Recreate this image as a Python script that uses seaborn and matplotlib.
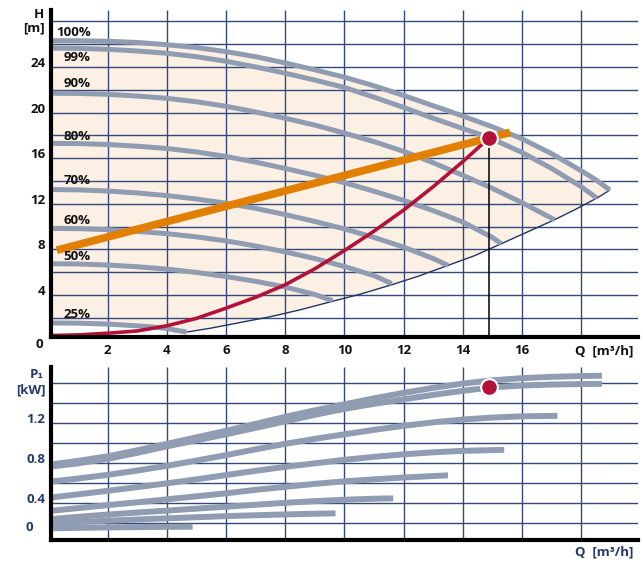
import numpy as np
import pandas as pd
import matplotlib
matplotlib.use("Agg")
import matplotlib.pyplot as plt
import seaborn as sns

# ---------------- data ----------------
speeds = ["100%", "99%", "90%", "80%", "70%", "60%", "50%", "25%"]

# pump curves H(Q)
q_100 = [0, 1, 2, 3, 4, 5, 6, 7, 8, 9, 10, 11, 12, 13, 14, 15, 16, 17, 18, 18.5, 18.97]
h_100 = [26.3, 26.3, 26.25, 26.15, 25.95, 25.7, 25.35, 24.9, 24.35, 23.75, 23.1,
         22.35, 21.5, 20.6, 19.7, 18.75, 17.7, 16.4, 14.9, 14.1, 13.2]
q_99 = [0, 1, 2, 3, 4, 5, 6, 7, 8, 9, 10, 11, 12, 13, 14, 14.9, 16, 17, 18, 18.53]
h_99 = [25.65, 25.63, 25.55, 25.4, 25.2, 24.9, 24.5, 24.0, 23.45, 22.85, 22.2,
        21.35, 20.45, 19.5, 18.6, 17.8, 16.5, 15.1, 13.5, 12.5]
q_90 = [0, 1, 2, 3, 4, 5, 6, 7, 8, 9, 10, 11, 12, 13, 14, 15, 16, 17.1]
h_90 = [21.7, 21.68, 21.6, 21.45, 21.25, 20.95, 20.55, 20.05, 19.5, 18.9, 18.2,
        17.45, 16.6, 15.6, 14.5, 13.35, 12.1, 10.6]
q_80 = [0, 1, 2, 3, 4, 5, 6, 7, 8, 9, 10, 11, 12, 13, 14, 15, 15.3]
h_80 = [17.3, 17.28, 17.2, 17.05, 16.85, 16.55, 16.15, 15.65, 15.1, 14.5, 13.85,
        13.1, 12.3, 11.4, 10.4, 9.05, 8.5]
q_70 = [0, 1, 2, 3, 4, 5, 6, 7, 8, 9, 10, 11, 12, 13, 13.5]
h_70 = [13.25, 13.22, 13.12, 12.95, 12.72, 12.42, 12.05, 11.6, 11.05, 10.45, 9.8,
        9.05, 8.2, 7.2, 6.6]
q_60 = [0, 1, 2, 3, 4, 5, 6, 7, 8, 9, 10, 11, 11.6]
h_60 = [9.85, 9.82, 9.73, 9.58, 9.38, 9.1, 8.75, 8.3, 7.78, 7.2, 6.5, 5.7, 5.0]
q_50 = [0, 1, 2, 3, 4, 5, 6, 7, 8, 9, 9.6]
h_50 = [6.75, 6.72, 6.63, 6.48, 6.27, 5.98, 5.62, 5.2, 4.7, 4.05, 3.5]
q_25 = [0, 1, 2, 3, 3.5, 4, 4.67]
h_25 = [1.55, 1.53, 1.45, 1.3, 1.2, 1.05, 0.75]

# lower limit of the operating field
q_edge = [4.67, 5.5, 6.5, 7.5, 8.5, 9.6, 10.5, 11.6, 12.5, 13.5, 14.4, 15.3,
          16.2, 17.1, 17.8, 18.53, 18.97]
h_edge = [0.75, 1.1, 1.6, 2.1, 2.7, 3.45, 4.05, 4.9, 5.65, 6.6, 7.45, 8.5,
          9.55, 10.6, 11.5, 12.5, 13.2]

# proportional pressure control line
q_ctrl = [0.28, 15.6]
h_ctrl = [7.93, 18.26]

# system curve
q_sys = [0.1, 1, 2, 3, 4, 5, 6, 7, 8, 9, 10, 11, 12, 13, 14, 14.9]
h_sys = [0.45, 0.5, 0.65, 0.85, 1.3, 1.95, 2.85, 3.8, 4.9, 6.3, 7.9, 9.6,
         11.45, 13.5, 15.7, 17.8]

# duty point
duty_q = 14.9
duty_h = 17.8
duty_p = 1.56

# power curves P1(Q)
pq_100 = [0, 1, 2, 3, 4, 5, 6, 7, 8, 9, 10, 11, 12, 13, 14, 15, 16, 17, 18, 18.7]
p_100 = [0.785, 0.825, 0.87, 0.93, 0.995, 1.06, 1.125, 1.195, 1.265, 1.33, 1.39,
         1.45, 1.505, 1.555, 1.598, 1.63, 1.652, 1.665, 1.673, 1.676]
pq_99 = [0, 1, 2, 3, 4, 5, 6, 7, 8, 9, 10, 11, 12, 13, 14, 15, 16, 17, 18, 18.7]
p_99 = [0.765, 0.8, 0.845, 0.905, 0.97, 1.03, 1.09, 1.155, 1.22, 1.285, 1.345,
        1.395, 1.44, 1.485, 1.525, 1.56, 1.578, 1.588, 1.593, 1.595]
pq_90 = [0, 1, 2, 3, 4, 5, 6, 7, 8, 9, 10, 11, 12, 13, 14, 15, 16, 17.2]
p_90 = [0.615, 0.648, 0.685, 0.728, 0.775, 0.828, 0.882, 0.94, 0.995, 1.045,
        1.09, 1.135, 1.175, 1.21, 1.238, 1.258, 1.27, 1.275]
pq_80 = [0, 1, 2, 3, 4, 5, 6, 7, 8, 9, 10, 11, 12, 13, 14, 15.4]
p_80 = [0.455, 0.49, 0.525, 0.562, 0.6, 0.64, 0.683, 0.725, 0.765, 0.8, 0.835,
        0.865, 0.89, 0.91, 0.925, 0.935]
pq_70 = [0, 1, 2, 3, 4, 5, 6, 7, 8, 9, 10, 11, 12, 13, 13.5]
p_70 = [0.323, 0.352, 0.382, 0.41, 0.44, 0.47, 0.5, 0.535, 0.565, 0.595, 0.62,
        0.64, 0.658, 0.673, 0.68]
pq_60 = [0, 1, 2, 3, 4, 5, 6, 7, 8, 9, 10, 11, 11.65]
p_60 = [0.24, 0.265, 0.288, 0.308, 0.327, 0.347, 0.366, 0.386, 0.405, 0.422,
        0.436, 0.446, 0.45]
pq_50 = [0, 2, 4, 6, 8, 9, 9.7]
p_50 = [0.2, 0.226, 0.25, 0.272, 0.289, 0.296, 0.3]
pq_25 = [0, 2, 4, 4.87]
p_25 = [0.15, 0.159, 0.165, 0.166]

x_ticks = [2, 4, 6, 8, 10, 12, 14, 16, 18]
x_ticklabels = ["2", "4", "6", "8", "10", "12", "14", "16", ""]
h_ticks = list(range(2, 29, 2))
h_ticklabels = [str(v) if (v % 4 == 0 and v <= 24) else "" for v in h_ticks]
p_ticks = [0.2, 0.4, 0.6, 0.8, 1.0, 1.2, 1.4, 1.6]
p_ticklabels = ["", "0.4", "", "0.8", "", "1.2", "", ""]

# ---------------- tables ----------------
h_curves = [(q_100, h_100), (q_99, h_99), (q_90, h_90), (q_80, h_80),
            (q_70, h_70), (q_60, h_60), (q_50, h_50), (q_25, h_25)]
p_curves = [(pq_100, p_100), (pq_99, p_99), (pq_90, p_90), (pq_80, p_80),
            (pq_70, p_70), (pq_60, p_60), (pq_50, p_50), (pq_25, p_25)]
df_h = pd.concat([pd.DataFrame({"Q": q, "H": h, "speed": s})
                  for s, (q, h) in zip(speeds, h_curves)], ignore_index=True)
df_p = pd.concat([pd.DataFrame({"Q": q, "P": p, "speed": s})
                  for s, (q, p) in zip(speeds, p_curves)], ignore_index=True)
df_sys = pd.DataFrame({"Q": q_sys, "H": h_sys})
df_ctrl = pd.DataFrame({"Q": q_ctrl, "H": h_ctrl})

# ---------------- style ----------------
sns.set_style("white")
plt.rcParams["font.family"] = ["Open Sans", "DejaVu Sans"]
plt.rcParams["lines.solid_capstyle"] = "butt"
plt.rcParams["lines.solid_joinstyle"] = "round"

GRAY = "#8f9cb1"
GRID = "#34487a"
NAVY = "#26396a"
FILL = "#fcf0e4"
ORANGE = "#e17f00"
RED = "#b3103a"

fig = plt.figure(figsize=(6.43, 5.62), dpi=100)
ax1 = fig.add_axes([0.079, 0.4004, 0.9132, 0.5819])
ax2 = fig.add_axes([0.079, 0.0391, 0.9132, 0.3078])

XLIM = (0.078, 19.92)

# ----- top chart -----
ax1.set_xlim(*XLIM)
ax1.set_ylim(0.32, 29)
poly_q = list(q_100) + list(q_edge[::-1]) + list(q_25[::-1])
poly_h = list(h_100) + list(h_edge[::-1]) + list(h_25[::-1])
ax1.fill(poly_q, poly_h, color=FILL, lw=0, zorder=0.5)

ax1.set_xticks(x_ticks)
ax1.set_xticklabels(x_ticklabels)
ax1.set_yticks(h_ticks)
ax1.set_yticklabels(h_ticklabels)
ax1.grid(True, color=GRID, lw=1.0)
for gl in ax1.get_xgridlines() + ax1.get_ygridlines():
    gl.set_zorder(1)

ax1.plot(q_edge, h_edge, color="#1f3566", lw=1.0, zorder=2)
sns.lineplot(data=df_h, x="Q", y="H", units="speed", estimator=None, sort=False,
             color=GRAY, linewidth=3.6, ax=ax1, legend=False, zorder=3)
sns.lineplot(data=df_sys, x="Q", y="H", sort=False, estimator=None,
             color=RED, linewidth=2.6, ax=ax1, zorder=4)
sns.lineplot(data=df_ctrl, x="Q", y="H", sort=False, estimator=None,
             color=ORANGE, linewidth=5.6, ax=ax1, zorder=5)
ax1.vlines(duty_q, 0, duty_h, color="black", lw=1.1, zorder=4.5)
ax1.plot([duty_q], [duty_h], "o", ms=12, mfc=RED, mec="white", mew=1.5,
         zorder=6, clip_on=False)

# speed labels
label_h = [26.98, 24.83, 22.55, 17.93, 14.01, 10.57, 7.41, 2.33]
for s, yh in zip(speeds, label_h):
    ax1.text(1.43, yh, s, ha="right", va="center", fontsize=9.5,
             fontweight="bold", color="#111111", zorder=7)

ax1.tick_params(length=0, labelsize=9.5, colors="#111111", pad=4)
ax1.tick_params(axis="x", pad=5)
for t in ax1.get_xticklabels() + ax1.get_yticklabels():
    t.set_fontweight("bold")
for t in ax1.get_yticklabels():
    t.set_va("baseline")
ax1.set_xlabel("")
ax1.set_ylabel("")
for sp in ["top", "right"]:
    ax1.spines[sp].set_visible(False)
for sp in ["left", "bottom"]:
    ax1.spines[sp].set_linewidth(3.0)
    ax1.spines[sp].set_color("black")
    ax1.spines[sp].set_zorder(8)

ax1.text(-0.0135, -0.3, "0", transform=ax1.get_yaxis_transform(), ha="right",
         va="center", fontsize=9.5, fontweight="bold", color="#111111",
         clip_on=False)
ax1.text(0.993, -0.043, "Q  [m³/h]", transform=ax1.transAxes, ha="right",
         va="center", fontsize=9.5, fontweight="bold", color="#111111")
fig.text(44 / 643, 1 - 14 / 562, "H", ha="right", va="center", fontsize=9.5,
         fontweight="bold", color="#111111")
fig.text(45 / 643, 1 - 28 / 562, "[m]", ha="right", va="center", fontsize=9.5,
         fontweight="bold", color="#111111")

# ----- bottom chart -----
ax2.set_xlim(*XLIM)
ax2.set_ylim(0.033, 1.763)
ax2.set_xticks(x_ticks)
ax2.set_xticklabels([""] * len(x_ticks))
ax2.set_yticks(p_ticks)
ax2.set_yticklabels(p_ticklabels)
ax2.grid(True, color=GRID, lw=1.0)
for gl in ax2.get_xgridlines() + ax2.get_ygridlines():
    gl.set_zorder(1)
sns.lineplot(data=df_p, x="Q", y="P", units="speed", estimator=None, sort=False,
             color=GRAY, linewidth=4.3, ax=ax2, legend=False, zorder=3)
ax2.plot([duty_q], [duty_p], "o", ms=12, mfc=RED, mec="white", mew=1.5,
         zorder=6, clip_on=False)
ax2.tick_params(length=0, labelsize=9.5, colors=NAVY, pad=4)
for t in ax2.get_yticklabels():
    t.set_fontweight("bold")
    t.set_va("baseline")
ax2.set_xlabel("")
ax2.set_ylabel("")
for sp in ["top", "right"]:
    ax2.spines[sp].set_visible(False)
for sp in ["left", "bottom"]:
    ax2.spines[sp].set_linewidth(3.0)
    ax2.spines[sp].set_color("black")
    ax2.spines[sp].set_zorder(8)
ax2.text(-0.03, 0.163, "0", transform=ax2.get_yaxis_transform(), ha="right",
         va="center", fontsize=9.5, fontweight="bold", color=NAVY, clip_on=False)
ax2.text(0.993, -0.069, "Q  [m³/h]", transform=ax2.transAxes, ha="right",
         va="center", fontsize=9.5, fontweight="bold", color=NAVY)
fig.text(44 / 643, 1 - 375 / 562, "P₁", ha="right", va="center", fontsize=9.5,
         fontweight="bold", color=NAVY)
fig.text(46 / 643, 1 - 390 / 562, "[kW]", ha="right", va="center", fontsize=9.5,
         fontweight="bold", color=NAVY)

fig.savefig("out.png", dpi=100)
